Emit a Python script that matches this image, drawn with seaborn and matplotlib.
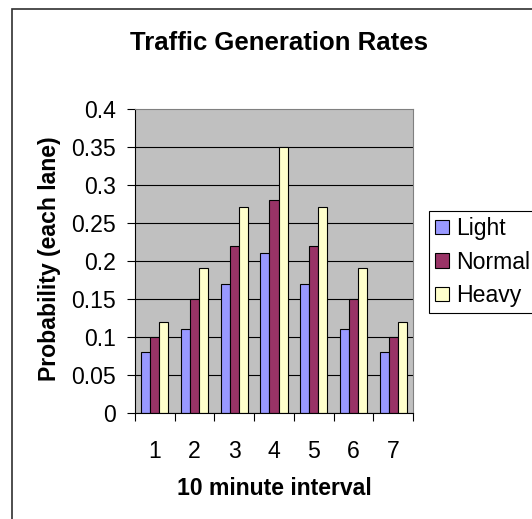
import matplotlib
matplotlib.use('Agg')
import matplotlib.pyplot as plt
import seaborn as sns
import pandas as pd
from matplotlib.patches import Rectangle

# ---- data ----
intervals = ['1', '2', '3', '4', '5', '6', '7']
light = [0.08, 0.11, 0.17, 0.21, 0.17, 0.11, 0.08]
normal = [0.10, 0.15, 0.22, 0.28, 0.22, 0.15, 0.10]
heavy = [0.12, 0.19, 0.27, 0.35, 0.27, 0.19, 0.12]
series_names = ['Light', 'Normal', 'Heavy']
colors = ['#9999FF', '#993366', '#FFFFCC']
yticks = [0, 0.05, 0.1, 0.15, 0.2, 0.25, 0.3, 0.35, 0.4]
ytick_labels = ['0', '0.05', '0.1', '0.15', '0.2', '0.25', '0.3', '0.35', '0.4']

df = pd.DataFrame({
    'interval': intervals * 3,
    'prob': light + normal + heavy,
    'series': [s for s in series_names for _ in intervals],
})

plt.rcParams['font.family'] = ['Liberation Sans', 'DejaVu Sans']

W, H = 532, 519
fig = plt.figure(figsize=(W / 100, H / 100), dpi=100)
fig.patch.set_facecolor('white')

# outer chart frame (only left/top visible in the crop)
fig.add_artist(Rectangle((12 / W, -0.1), 2.0, (1 - 9 / H) + 0.1,
                         transform=fig.transFigure, fill=False,
                         edgecolor='#303030', linewidth=1.2))

ax = fig.add_axes([135 / W, 1 - 412.7 / H, 278 / W, 304 / H])
sns.barplot(data=df, x='interval', y='prob', hue='series',
            hue_order=series_names, palette=colors, saturation=1,
            width=0.68, edgecolor='black', linewidth=0.8,
            errorbar=None, ax=ax)

handles, labels = ax.get_legend_handles_labels()
if ax.get_legend() is not None:
    ax.get_legend().remove()

ax.set_facecolor('#C0C0C0')
ax.set_xlim(-0.5, 6.5)
ax.set_ylim(0, 0.4)
ax.set_yticks(yticks, ytick_labels)
ax.set_xticks(range(len(intervals)), intervals)
ax.set_xticks([i - 0.5 for i in range(len(intervals) + 1)], minor=True)

ax.grid(axis='y', color='black', linewidth=0.8)
ax.set_axisbelow(True)
ax.yaxis.get_gridlines()[-1].set_visible(False)

ax.tick_params(axis='x', which='major', length=0, pad=19.5, labelsize=16.6)
ax.tick_params(axis='x', which='minor', length=5.8, width=0.8, direction='out')
ax.tick_params(axis='y', length=5.8, width=0.8, direction='out', pad=8, labelsize=16.6)

for side in ['left', 'bottom']:
    ax.spines[side].set_color('black')
    ax.spines[side].set_linewidth(0.8)
for side in ['top', 'right']:
    ax.spines[side].set_color('#808080')
    ax.spines[side].set_linewidth(0.8)

ax.set_xlabel('10 minute interval', fontsize=16.6, fontweight='bold')
ax.set_ylabel('Probability (each lane)', fontsize=16.6, fontweight='bold')
ax.xaxis.set_label_coords(0.5, (412.7 - 477) / 304)
ax.yaxis.set_label_coords((61 - 135) / 278, (412.7 - 258.5) / 304)

fig.text(279 / W, 1 - 43.5 / H, 'Traffic Generation Rates', ha='center', va='center',
         fontsize=18.5, fontweight='bold')

leg = fig.legend(handles, labels, loc='upper left',
                 bbox_to_anchor=(429 / W, 1 - 211 / H), frameon=True,
                 fancybox=False, edgecolor='black', framealpha=1,
                 fontsize=16.6, handlelength=0.6, handleheight=0.6,
                 handletextpad=0.3, borderpad=0.26, labelspacing=0.46,
                 borderaxespad=0)
leg.get_frame().set_linewidth(0.8)
for h in leg.legend_handles:
    h.set_edgecolor('black')
    h.set_linewidth(0.8)

fig.savefig('out.png', dpi=100)
